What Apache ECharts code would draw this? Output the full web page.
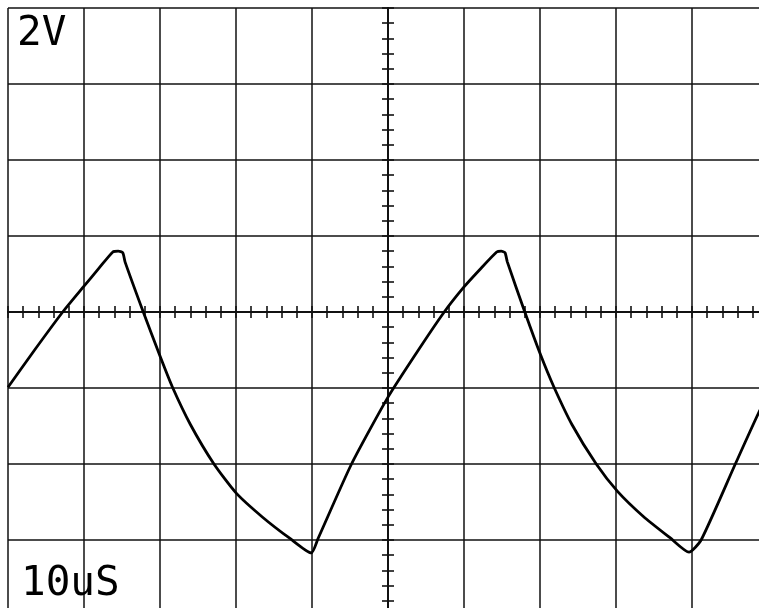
<!DOCTYPE html>
<html>
<head>
<meta charset="utf-8">
<script src="https://cdn.jsdelivr.net/npm/echarts@6/dist/echarts.min.js"></script>
<style>
html,body{margin:0;padding:0;background:#fff;}
#c{width:759px;height:608px;}
</style>
</head>
<body>
<div id="c"></div>
<script>
// time in microseconds (screen centre = 0), voltage in volts (screen centre = 0)
var timeUs = [-50, -46.5, -42.8, -40, -38, -36.2, -35.5, -34.9, -34.6, -32.2, -30, -28.4, -26, -22.9, -20, -16.5, -12.9, -10.1,
  -9.2, -4.8, 0, 4, 7.4, 10, 12, 14.3, 14.9, 15.4, 15.7, 18, 20.1, 21.8, 24.2, 27.4, 30.2, 33.6, 37.1, 39.6,
  41.2, 45.7, 48.8, 50];
var volts = [-1.98, -1.0, 0, 0.68, 1.16, 1.58, 1.60, 1.56, 1.32, 0, -1.16, -1.96, -2.96, -4.0, -4.76, -5.40, -5.96, -6.34,
  -5.96, -4.0, -2.24, -1.0, 0, 0.66, 1.10, 1.58, 1.60, 1.56, 1.32, 0, -1.14, -1.96, -2.96, -4.0, -4.72, -5.38, -5.94, -6.32,
  -6.0, -4.0, -2.64, -2.2];
var voltLabel = '2V';
var timeLabel = '10uS';
var timeRange = [-50, 50, 10];   // min, max, per division
var voltRange = [-8, 8, 2];

var pts = timeUs.map(function (t, i) { return [t, volts[i]]; });

var ink = '#111';
function xAx(pos, split) {
  return {
    type: 'value', position: pos, min: timeRange[0], max: timeRange[1], interval: timeRange[2],
    axisLine: { show: true, onZero: true, lineStyle: { color: ink, width: 2 } },
    axisTick: { show: true, length: 6, lineStyle: { color: ink, width: 1.6 } },
    minorTick: { show: true, splitNumber: 5, length: 6, lineStyle: { color: ink, width: 1.6 } },
    axisLabel: { show: false },
    splitLine: { show: split, lineStyle: { color: ink, width: 1.5 } }
  };
}
function yAx(pos, split) {
  return {
    type: 'value', position: pos, min: voltRange[0], max: voltRange[1], interval: voltRange[2],
    axisLine: { show: true, onZero: true, lineStyle: { color: ink, width: 2 } },
    axisTick: { show: true, length: 6, lineStyle: { color: ink, width: 1.6 } },
    minorTick: { show: true, splitNumber: 5, length: 6, lineStyle: { color: ink, width: 1.6 } },
    axisLabel: { show: false },
    splitLine: { show: split, lineStyle: { color: ink, width: 1.5 } }
  };
}

var chart = echarts.init(document.getElementById('c'), null, { renderer: 'canvas' });
chart.setOption({
  backgroundColor: '#fff',
  animation: false,
  grid: { left: 8, top: 8, right: -9, bottom: -8, containLabel: false, outerBoundsMode: 'none' },
  xAxis: [xAx('bottom', true), xAx('top', false)],
  yAxis: [yAx('left', true), yAx('right', false)],
  series: [{
    type: 'line', xAxisIndex: 0, yAxisIndex: 0, data: pts,
    showSymbol: false, smooth: 0.2,
    lineStyle: { color: '#000', width: 2.8 }, z: 5
  }],
  graphic: [
    { type: 'text', left: 17, top: 14, z: 10,
      style: { text: voltLabel, fontFamily: 'DejaVu Sans Mono', fontSize: 41, fill: '#000' } },
    { type: 'text', left: 21, top: 564, z: 10,
      style: { text: timeLabel, fontFamily: 'DejaVu Sans Mono', fontSize: 41, fill: '#000' } }
  ]
});
</script>
</body>
</html>
